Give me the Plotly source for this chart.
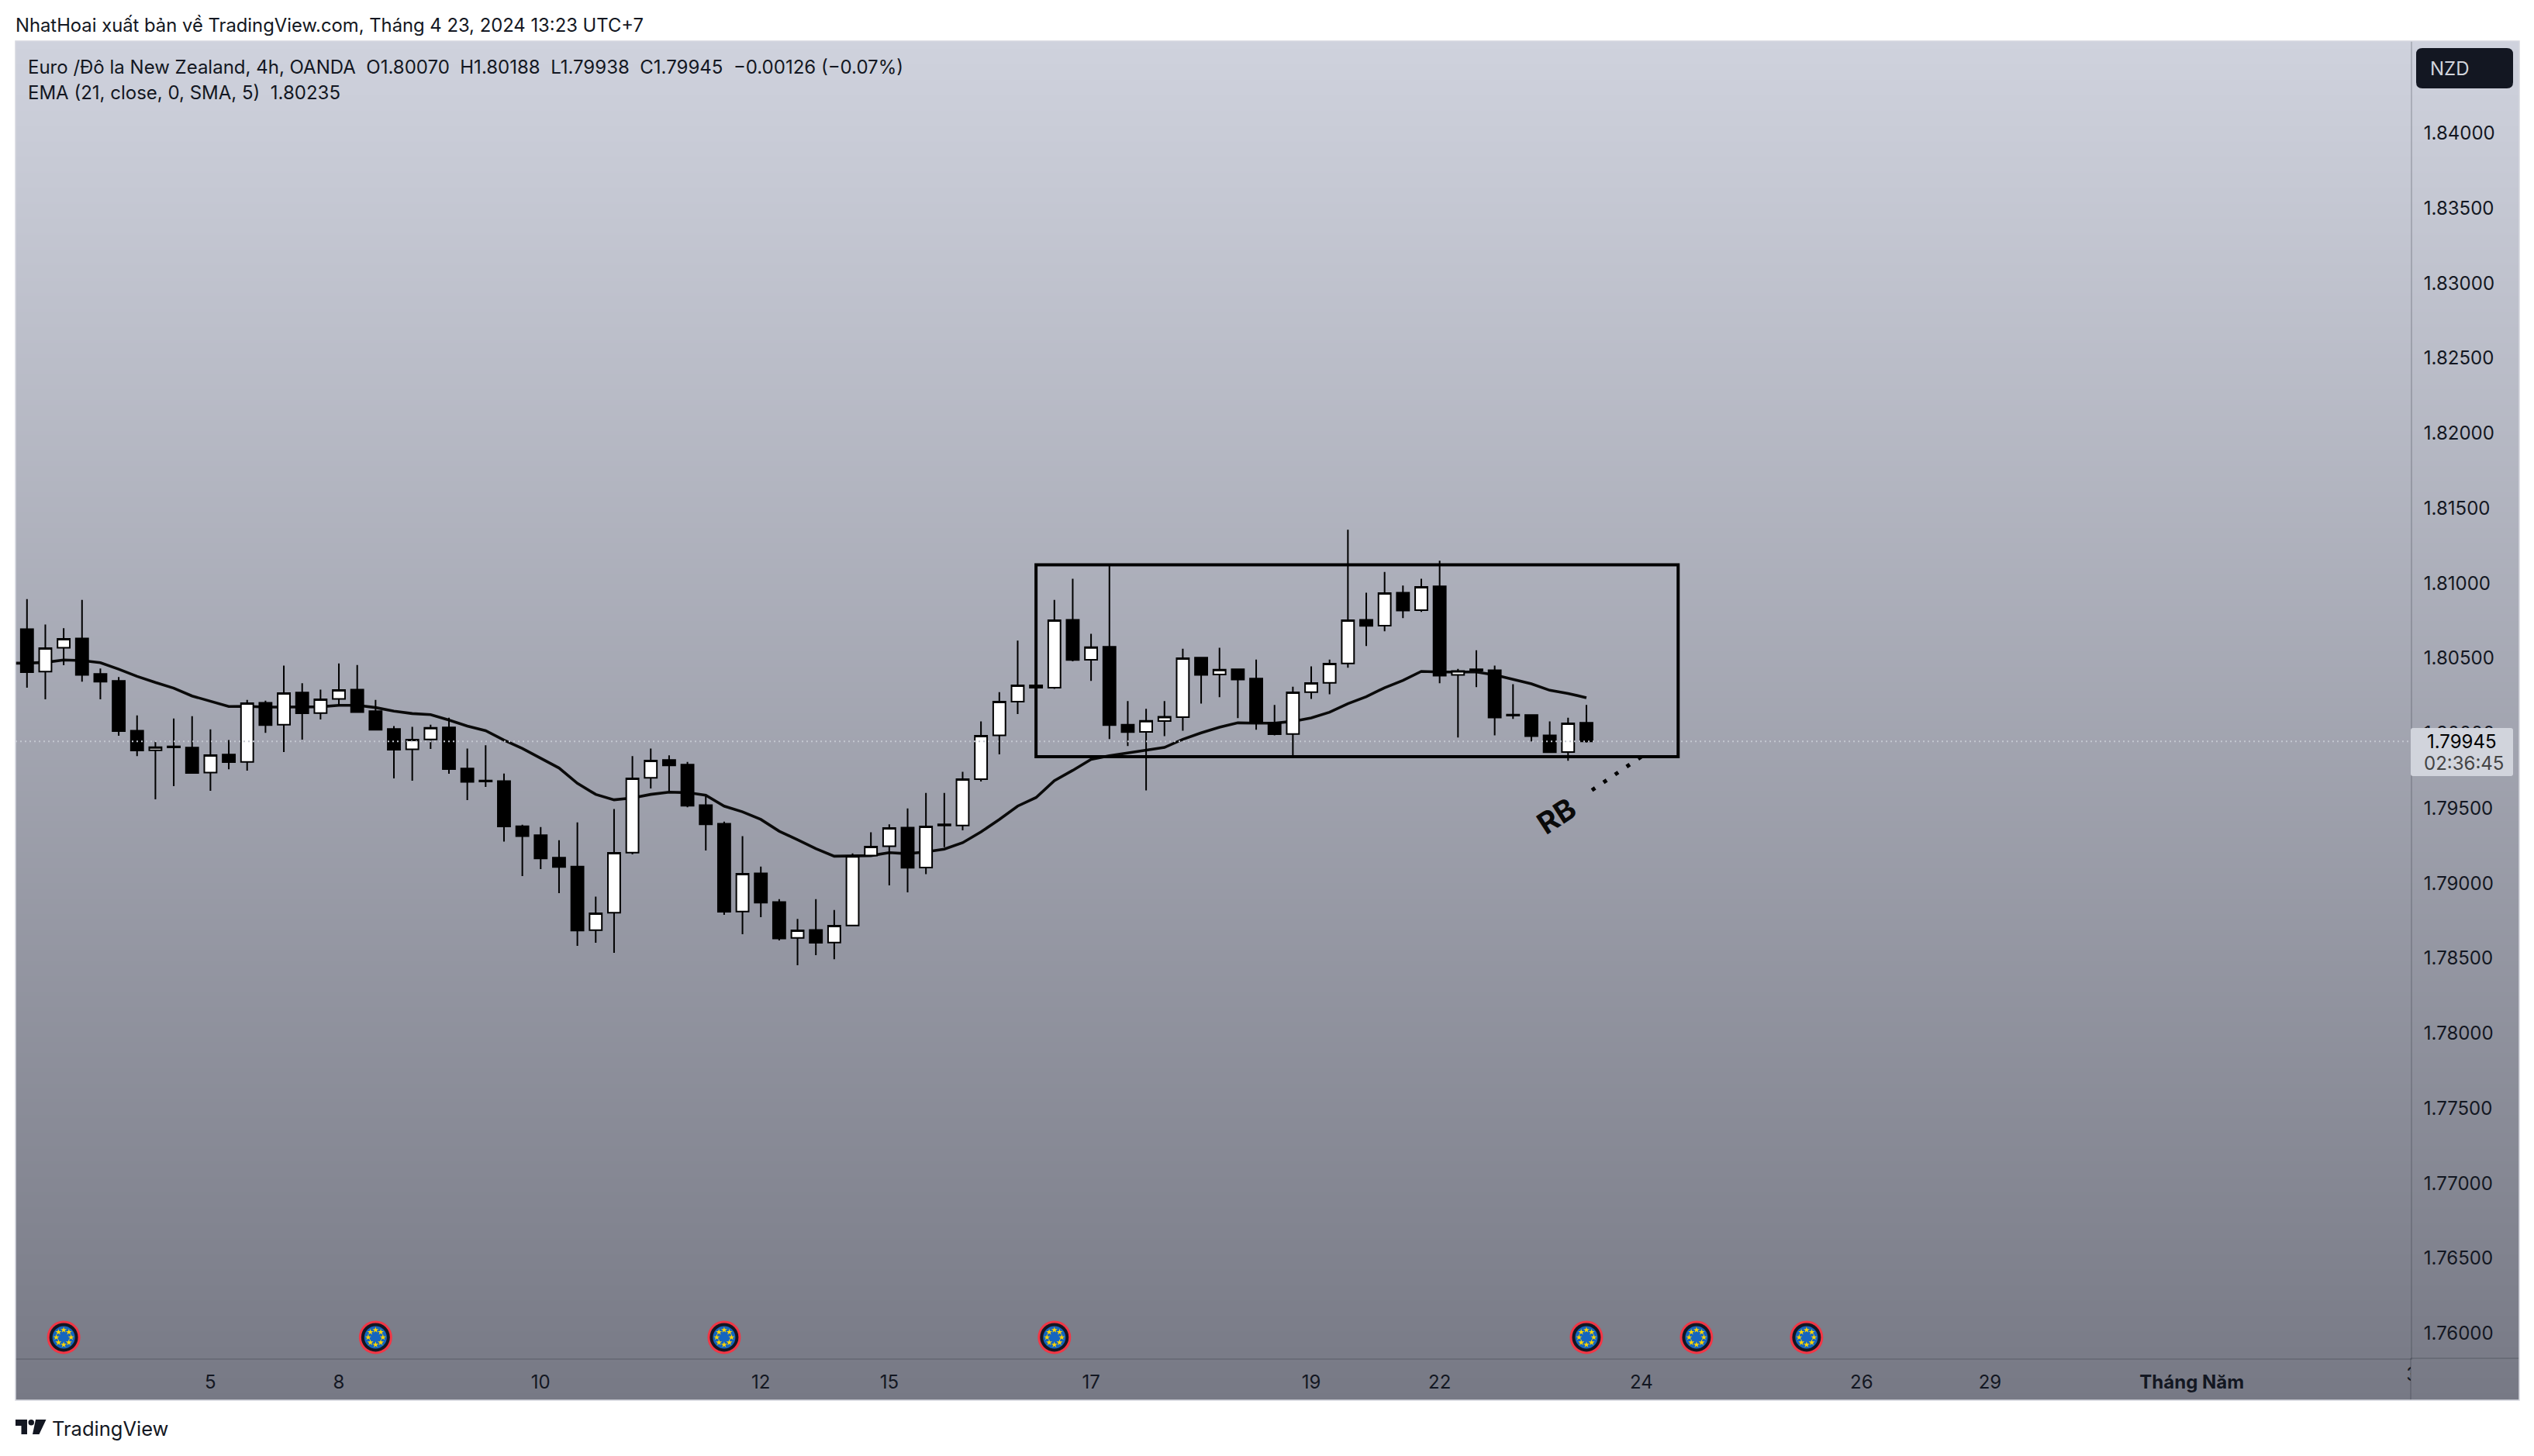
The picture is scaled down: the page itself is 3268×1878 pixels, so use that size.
"""
EURNZD 4h chart, TradingView snapshot style
"""
import math
import plotly.graph_objects as go

W, H = 3268, 1878

# candle data, index 0 = first visible bar
opens = [1.80694, 1.80410, 1.80569, 1.80632, 1.80395, 1.80348, 1.80017, 1.79886, 1.79912, 1.79904,
         1.79737, 1.79857, 1.79809, 1.80203, 1.80057, 1.80271, 1.80134, 1.80229, 1.80290, 1.80147,
         1.80028, 1.79892, 1.79959, 1.80038, 1.79764, 1.79685, 1.79681, 1.79380, 1.79320, 1.79170,
         1.79111, 1.78687, 1.78803, 1.79204, 1.79702, 1.79821, 1.79790, 1.79521, 1.79397, 1.78811,
         1.79066, 1.78875, 1.78636, 1.78689, 1.78605, 1.78718, 1.79185, 1.79246, 1.79371, 1.79104,
         1.79392, 1.79385, 1.79693, 1.79985, 1.80210, 1.80319, 1.80303, 1.80755, 1.80489, 1.80576,
         1.80057, 1.80009, 1.80081, 1.80107, 1.80503, 1.80391, 1.80426, 1.80364, 1.80071, 1.79995,
         1.80274, 1.80336, 1.80465, 1.80755, 1.80717, 1.80937, 1.80820, 1.80979, 1.80388, 1.80426,
         1.80420, 1.80124, 1.80121, 1.79985, 1.79874, 1.80070]
highs = [1.80894, 1.80724, 1.80700, 1.80889, 1.80431, 1.80374, 1.80119, 1.79943, 1.80098, 1.80114,
         1.80026, 1.79954, 1.80222, 1.80217, 1.80451, 1.80333, 1.80290, 1.80465, 1.80455, 1.80222,
         1.80047, 1.80043, 1.80057, 1.80103, 1.79898, 1.79919, 1.79731, 1.79390, 1.79375, 1.79287,
         1.79406, 1.78911, 1.79494, 1.79847, 1.79898, 1.79852, 1.79809, 1.79580, 1.79411, 1.79314,
         1.79111, 1.78894, 1.78762, 1.78894, 1.78822, 1.79199, 1.79340, 1.79392, 1.79499, 1.79602,
         1.79602, 1.79742, 1.80078, 1.80274, 1.80617, 1.80324, 1.80889, 1.81030, 1.80662, 1.81122,
         1.80214, 1.80162, 1.80214, 1.80563, 1.80507, 1.80570, 1.80426, 1.80491, 1.80188, 1.80310,
         1.80445, 1.80491, 1.81356, 1.80937, 1.81075, 1.80984, 1.81030, 1.81149, 1.80429, 1.80553,
         1.80450, 1.80326, 1.80124, 1.80078, 1.80103, 1.80188]
lows = [1.80303, 1.80226, 1.80453, 1.80343, 1.80226, 1.79983, 1.79847, 1.79559, 1.79647, 1.79735,
        1.79616, 1.79759, 1.79750, 1.80002, 1.79874, 1.79957, 1.80091, 1.80183, 1.80136, 1.80023,
        1.79699, 1.79683, 1.79895, 1.79730, 1.79554, 1.79642, 1.79278, 1.79047, 1.79094, 1.78934,
        1.78582, 1.78603, 1.78536, 1.79192, 1.79631, 1.79614, 1.79506, 1.79218, 1.78789, 1.78660,
        1.78774, 1.78619, 1.78453, 1.78520, 1.78493, 1.78718, 1.79184, 1.78985, 1.78939, 1.79061,
        1.79240, 1.79352, 1.79678, 1.79859, 1.80128, 1.80300, 1.80296, 1.80479, 1.80348, 1.79961,
        1.79914, 1.79619, 1.79981, 1.80017, 1.80198, 1.80240, 1.80100, 1.80023, 1.79986, 1.79847,
        1.80229, 1.80260, 1.80436, 1.80581, 1.80679, 1.80767, 1.80808, 1.80333, 1.79971, 1.80307,
        1.79986, 1.80095, 1.79945, 1.79873, 1.79816, 1.79938]
closes = [1.80407, 1.80567, 1.80629, 1.80389, 1.80343, 1.80014, 1.79885, 1.79907, 1.79905, 1.79735,
          1.79854, 1.79807, 1.80200, 1.80054, 1.80267, 1.80133, 1.80226, 1.80288, 1.80141, 1.80023,
          1.79890, 1.79957, 1.80036, 1.79761, 1.79676, 1.79678, 1.79378, 1.79314, 1.79165, 1.79108,
          1.78684, 1.78799, 1.79203, 1.79699, 1.79818, 1.79785, 1.79516, 1.79392, 1.78810, 1.79063,
          1.78870, 1.78632, 1.78686, 1.78603, 1.78717, 1.79180, 1.79244, 1.79368, 1.79103, 1.79378,
          1.79385, 1.79693, 1.79983, 1.80210, 1.80319, 1.80303, 1.80753, 1.80488, 1.80574, 1.80054,
          1.80007, 1.80083, 1.80109, 1.80500, 1.80389, 1.80424, 1.80358, 1.80071, 1.79993, 1.80272,
          1.80334, 1.80464, 1.80753, 1.80715, 1.80934, 1.80818, 1.80975, 1.80384, 1.80415, 1.80417,
          1.80105, 1.80117, 1.79981, 1.79873, 1.80066, 1.79945]

# EMA 21 values, starts one bar before the first candle
ema_values = [1.80467, 1.80467, 1.80472, 1.80488, 1.80484, 1.80470, 1.80427, 1.80379, 1.80338, 1.80300,
              1.80248, 1.80214, 1.80178, 1.80179, 1.80174, 1.80174, 1.80176, 1.80176, 1.80186, 1.80186,
              1.80171, 1.80147, 1.80131, 1.80124, 1.80088, 1.80048, 1.80017, 1.79954, 1.79898, 1.79835,
              1.79768, 1.79666, 1.79592, 1.79556, 1.79568, 1.79592, 1.79607, 1.79604, 1.79587, 1.79514,
              1.79476, 1.79425, 1.79347, 1.79290, 1.79230, 1.79180, 1.79180, 1.79184, 1.79204, 1.79197,
              1.79209, 1.79227, 1.79270, 1.79342, 1.79425, 1.79514, 1.79571, 1.79683, 1.79752, 1.79826,
              1.79850, 1.79867, 1.79886, 1.79905, 1.79959, 1.80002, 1.80040, 1.80069, 1.80067, 1.80067,
              1.80079, 1.80102, 1.80140, 1.80197, 1.80243, 1.80303, 1.80352, 1.80412, 1.80408, 1.80408,
              1.80408, 1.80389, 1.80360, 1.80329, 1.80286, 1.80265, 1.80236]

# axis labels
price_ticks = [1.76, 1.765, 1.77, 1.775, 1.78, 1.785, 1.79, 1.795, 1.80, 1.805,
               1.81, 1.815, 1.82, 1.825, 1.83, 1.835, 1.84]
time_ticks = [10, 17, 28, 40, 47, 58, 70, 77, 88, 100, 107, 118]
time_labels = ['5', '8', '10', '12', '15', '17', '19', '22', '24', '26', '29', '<b>Tháng Năm</b>']

# drawings and events
last_price = 1.79945
box_x = [55, 90]
box_y = [1.79843, 1.81123]
rb_line_x = [85.3, 88.1]
rb_line_y = [1.79620, 1.79852]
event_bars = [2, 19, 38, 56, 85, 91, 97]
event_level = 1.75973

INK = '#131722'
FONT = 'Inter'

# pixel geometry of the screenshot
PANEL_L, PANEL_R, PANEL_T, PANEL_B = 20, 3249, 53, 1806
PLOT_R, PLOT_B = 3109, 1752
BAR_PX = 23.66
PRICE_PX = 19350.0
X_RANGE = [-0.6255, 129.93]
Y_RANGE = [1.758331, 1.846134]


def px(x):
    return x / W


def py(y):
    return 1 - y / H


def paper_text(fig, x, y, text, size=24, color=INK, xanchor='left', **kw):
    fig.add_annotation(xref='paper', yref='paper', x=px(x), y=py(y), text=text, showarrow=False,
                       xanchor=xanchor, yanchor='middle', font=dict(family=FONT, size=size, color=color), **kw)


def round_box(x0, y0, x1, y1, r):
    # rounded rect as svg path, in paper coords
    a0, a1, b0, b1 = px(x0), px(x1), py(y0), py(y1)
    rx, ry = r / W, r / H
    return (f'M{a0+rx},{b0} L{a1-rx},{b0} Q{a1},{b0} {a1},{b0-ry} L{a1},{b1+ry} Q{a1},{b1} {a1-rx},{b1} '
            f'L{a0+rx},{b1} Q{a0},{b1} {a0},{b1+ry} L{a0},{b0-ry} Q{a0},{b0} {a0+rx},{b0} Z')


fig = go.Figure()

# background gradient on its own subplot
fig.add_trace(go.Heatmap(
    x=[0, 1], y=[0, 1], z=[[0, 0], [1, 1]], zsmooth='best', showscale=False, hoverinfo='skip',
    zmin=0, zmax=1, colorscale=[[0, '#777985'], [1, '#cfd2dd']], xaxis='x', yaxis='y',
))

# EMA sits on a lower subplot so the candles cover it
fig.add_trace(go.Scatter(
    x=list(range(-1, len(closes))), y=ema_values, mode='lines', showlegend=False, hoverinfo='skip',
    line=dict(color='#0a0a0a', width=3.6), xaxis='x2', yaxis='y2',
))

fig.add_trace(go.Candlestick(
    x=list(range(len(closes))), open=opens, high=highs, low=lows, close=closes, showlegend=False,
    increasing=dict(line=dict(color='#000000', width=2), fillcolor='#ffffff'),
    decreasing=dict(line=dict(color='#000000', width=2), fillcolor='#000000'),
    xaxis='x3', yaxis='y3',
))

# last price line
fig.add_trace(go.Scatter(
    x=X_RANGE, y=[last_price, last_price], mode='lines', showlegend=False, hoverinfo='skip',
    line=dict(color='#c4c7d0', width=2, dash='2px,4px'), xaxis='x3', yaxis='y3',
))

# RB dotted trend line
fig.add_trace(go.Scatter(
    x=rb_line_x, y=rb_line_y, mode='lines', showlegend=False, hoverinfo='skip',
    line=dict(color='#000000', width=5, dash='5px,13px'), xaxis='x3', yaxis='y3',
))

# economic event badges
for size, color in [(43, '#f23645'), (37, '#131722'), (29, '#1565c0')]:
    fig.add_trace(go.Scatter(
        x=event_bars, y=[event_level] * len(event_bars), mode='markers', showlegend=False, hoverinfo='skip',
        marker=dict(size=size, color=color, line=dict(width=0)), xaxis='x3', yaxis='y3',
    ))
star_x, star_y = [], []
for bar in event_bars:
    for k in range(8):
        ang = k * math.pi / 4
        star_x.append(bar + 9.5 * math.cos(ang) / BAR_PX)
        star_y.append(event_level + 9.5 * math.sin(ang) / PRICE_PX)
fig.add_trace(go.Scatter(
    x=star_x, y=star_y, mode='markers', showlegend=False, hoverinfo='skip',
    marker=dict(symbol='star', size=6, color='#ffd600', line=dict(width=0)), xaxis='x3', yaxis='y3',
))

# "3" tick is cut by the price scale, so it goes in a clipped strip
fig.add_trace(go.Scatter(
    x=[130], y=[0.15], mode='text', text=['3'], showlegend=False, hoverinfo='skip', cliponaxis=True,
    textfont=dict(family=FONT, size=24, color=INK), xaxis='x4', yaxis='y4',
))

plot_x = [px(PANEL_L), px(PLOT_R)]
plot_y = [py(PLOT_B), py(PANEL_T)]
hidden = dict(visible=False, fixedrange=True)

fig.update_layout(
    width=W, height=H,
    margin=dict(l=0, r=0, t=0, b=0),
    paper_bgcolor='#ffffff',
    plot_bgcolor='rgba(0,0,0,0)',
    showlegend=False,
    boxgap=0.33,
    boxgroupgap=0,
    font=dict(family=FONT, size=24, color=INK),
    xaxis=dict(domain=[px(PANEL_L), px(PANEL_R)], range=[0, 1], **hidden),
    yaxis=dict(domain=[py(PANEL_B), py(PANEL_T)], range=[0, 1], **hidden),
    xaxis2=dict(domain=plot_x, range=X_RANGE, anchor='y2', **hidden),
    yaxis2=dict(domain=plot_y, range=Y_RANGE, anchor='x2', **hidden),
    xaxis3=dict(
        domain=plot_x, range=X_RANGE, anchor='y3', rangeslider=dict(visible=False), fixedrange=True,
        tickmode='array', tickvals=time_ticks, ticktext=time_labels, ticks='', showgrid=False, zeroline=False,
        showline=True, linecolor='rgba(42,46,57,0.2)', linewidth=2, ticklabelstandoff=8,
        tickfont=dict(family=FONT, size=24, color=INK),
    ),
    yaxis3=dict(
        domain=plot_y, range=Y_RANGE, anchor='x3', side='right', fixedrange=True,
        tickmode='array', tickvals=price_ticks, ticktext=[f'{v:.5f}' for v in price_ticks], ticks='',
        showgrid=False, zeroline=False, showline=True, linecolor='rgba(42,46,57,0.2)', linewidth=2,
        ticklabelstandoff=10, tickfont=dict(family=FONT, size=24, color=INK),
    ),
    xaxis4=dict(domain=plot_x, range=X_RANGE, anchor='y4', **hidden),
    yaxis4=dict(domain=[py(PANEL_B), py(PLOT_B)], range=[-1, 1], anchor='x4', **hidden),
)

# price scale border runs down through the time strip
fig.add_shape(type='line', xref='paper', yref='paper', x0=px(PLOT_R), x1=px(PLOT_R), y0=py(PANEL_B), y1=py(PLOT_B),
              line=dict(color='rgba(42,46,57,0.2)', width=2))
fig.add_shape(type='line', xref='paper', yref='paper', x0=px(PLOT_R), x1=px(PANEL_R), y0=py(PLOT_B), y1=py(PLOT_B),
              line=dict(color='rgba(42,46,57,0.2)', width=2))

# panel border
fig.add_shape(type='rect', xref='paper', yref='paper', x0=px(PANEL_L), x1=px(PANEL_R), y0=py(PANEL_B), y1=py(PANEL_T),
              line=dict(color='#d6d8e0', width=1.5))

# consolidation box
fig.add_shape(type='rect', xref='x3', yref='y3', x0=box_x[0], x1=box_x[1], y0=box_y[0], y1=box_y[1],
              line=dict(color='#000000', width=4))

# currency button and last price tag
fig.add_shape(type='path', xref='paper', yref='paper', path=round_box(3116, 62, 3241, 114, 8),
              fillcolor=INK, line=dict(width=0))
fig.add_shape(type='path', xref='paper', yref='paper', path=round_box(3109, 939, 3241, 1001, 3),
              fillcolor='#d1d4dc', line=dict(width=0))

# TradingView logo
logo_t = [(20, 1831), (35, 1831), (35, 1850), (27.5, 1850), (27.5, 1839), (20, 1839)]
logo_7 = [(46, 1831), (59.5, 1831), (50.5, 1850), (42, 1850)]
for pts in (logo_t, logo_7):
    fig.add_shape(type='path', xref='paper', yref='paper', fillcolor=INK, line=dict(width=0),
                  path='M' + ' L'.join(f'{px(a)},{py(b)}' for a, b in pts) + ' Z')
fig.add_shape(type='circle', xref='paper', yref='paper', fillcolor=INK, line=dict(width=0),
              x0=px(36.5), x1=px(44), y0=py(1838.5), y1=py(1831))

paper_text(fig, 18, 33, 'NhatHoai xuất bản về TradingView.com, Tháng 4 23, 2024 13:23 UTC+7', size=23.8)
paper_text(fig, 34, 87, 'Euro /Đô la New Zealand, 4h, OANDA  O1.80070  H1.80188  L1.79938  C1.79945  −0.00126 (−0.07%)')
paper_text(fig, 34, 120, 'EMA (21, close, 0, SMA, 5)  1.80235')
paper_text(fig, 3132, 88, 'NZD', color='#d1d4dc')
paper_text(fig, 3175, 956, '1.79945', color='#000000', xanchor='center')
paper_text(fig, 3177, 984, '02:36:45', color='#444444', xanchor='center')
paper_text(fig, 65, 1842, 'TradingView', size=25.5)

fig.add_annotation(xref='x3', yref='y3', x=83.36, y=1.79451, text='<b>RB</b>', showarrow=False, textangle=-33,
                   font=dict(family=FONT, size=38, color='#0a0a0a'))

fig.write_html("out.html", config=dict(displayModeBar=False), post_script="document.body.style.margin='0';")
